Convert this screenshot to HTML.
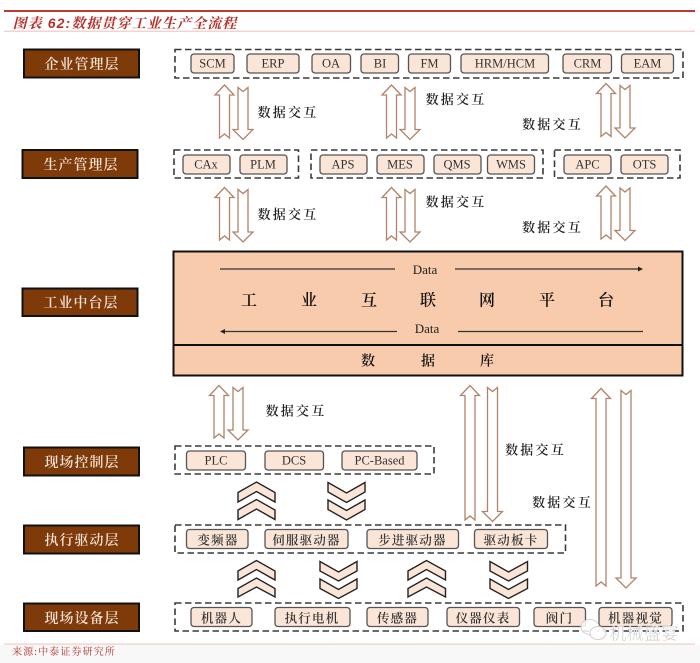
<!DOCTYPE html>
<html><head><meta charset="utf-8">
<style>
html,body{margin:0;padding:0;background:#fff;width:700px;height:663px;overflow:hidden}
svg{display:block;filter:blur(.35px)}
text{font-family:"Liberation Serif","Noto Serif CJK SC",serif;text-anchor:middle;dominant-baseline:central}
.lay rect{fill:#7f3a0a;stroke:#111;stroke-width:2}
.lay text{fill:#f6e6d8;font-size:14px;letter-spacing:1px;font-weight:600;transform:translateY(2px)}
.grp rect{fill:none;stroke:#3a3a3a;stroke-width:1.6;stroke-dasharray:6.5 3.5}
.chip rect{fill:#fbe5d6;stroke:#555;stroke-width:1.3}
.chip text{fill:#333;font-size:12.5px}
.cn text{letter-spacing:1.2px;font-weight:600;transform:translateY(1.5px)}
.arr polygon{fill:#fff;stroke:#b0836a;stroke-width:1.3}
.chev polygon{fill:#fbe5d6;stroke:#222;stroke-width:1.4}
.lab text{font-size:13px;letter-spacing:2.2px;fill:#222;font-weight:600;transform:translateY(1.5px)}
.big{transform:translateY(2px)}
</style></head><body>
<svg width="700" height="663" viewBox="0 0 700 663" xmlns="http://www.w3.org/2000/svg">
<rect x="0" y="645" width="700" height="18" fill="#f8f8f8"/>
<rect x="4" y="10" width="691" height="2" fill="#bf3a30"/>
<rect x="4" y="30.5" width="691" height="1.5" fill="#f2d5d0"/>
<text x="125" y="23" style="font-size:14px;font-style:italic;font-weight:700;fill:#b5302a;letter-spacing:1.1px;font-family:'Liberation Sans','Noto Serif CJK SC',serif">图表 62:数据贯穿工业生产全流程</text>

<g class="lay">
<rect x="24" y="49.5" width="115" height="28"/><text x="82" y="63.5">企业管理层</text>
<rect x="22.5" y="150" width="115" height="28"/><text x="81" y="164">生产管理层</text>
<rect x="22.5" y="288.5" width="115" height="27.5"/><text x="81" y="302">工业中台层</text>
<rect x="24" y="447.5" width="115" height="28"/><text x="82" y="461.5">现场控制层</text>
<rect x="24" y="525.5" width="115" height="28"/><text x="82" y="539.5">执行驱动层</text>
<rect x="24" y="603.5" width="115" height="27.5"/><text x="82" y="617.5">现场设备层</text>
</g>

<g class="grp">
<rect x="175" y="49.5" width="508" height="28.5"/>
<rect x="174" y="150" width="124.5" height="28"/>
<rect x="311" y="150" width="232" height="28"/>
<rect x="554.5" y="150" width="125.5" height="28"/>
<rect x="175" y="446" width="259" height="28"/>
<rect x="175" y="525" width="390.5" height="28"/>
<rect x="175" y="603" width="508" height="28"/>
</g>

<g class="chip">
<rect x="191" y="54" width="43" height="19" rx="3"/><text x="212.5" y="63.5">SCM</text>
<rect x="247" y="54" width="52" height="19" rx="3"/><text x="273" y="63.5">ERP</text>
<rect x="312" y="54" width="38.5" height="19" rx="3"/><text x="331" y="63.5">OA</text>
<rect x="361" y="54" width="37.5" height="19" rx="3"/><text x="380" y="63.5">BI</text>
<rect x="408.5" y="54" width="42" height="19" rx="3"/><text x="429.5" y="63.5">FM</text>
<rect x="461" y="54" width="87.5" height="19" rx="3"/><text x="505" y="63.5">HRM/HCM</text>
<rect x="563" y="54" width="48.5" height="19" rx="3"/><text x="587.5" y="63.5">CRM</text>
<rect x="621.5" y="54" width="52" height="19" rx="3"/><text x="647.5" y="63.5">EAM</text>

<rect x="183" y="155" width="47" height="19" rx="3"/><text x="206" y="164.5">CAx</text>
<rect x="240" y="155" width="47" height="19" rx="3"/><text x="263" y="164.5">PLM</text>
<rect x="320" y="155" width="47" height="19" rx="3"/><text x="343" y="164.5">APS</text>
<rect x="377" y="155" width="47" height="19" rx="3"/><text x="400" y="164.5">MES</text>
<rect x="434" y="155" width="47" height="19" rx="3"/><text x="457" y="164.5">QMS</text>
<rect x="487.5" y="155" width="47" height="19" rx="3"/><text x="511" y="164.5">WMS</text>
<rect x="564" y="155" width="47" height="19" rx="3"/><text x="587.5" y="164.5">APC</text>
<rect x="621" y="155" width="47" height="19" rx="3"/><text x="644.5" y="164.5">OTS</text>

<rect x="186.5" y="451" width="59" height="19" rx="3"/><text x="216" y="460.5">PLC</text>
<rect x="265" y="451" width="58.5" height="19" rx="3"/><text x="294" y="460.5">DCS</text>
<rect x="342" y="451" width="75" height="19" rx="3"/><text x="379.5" y="460.5">PC-Based</text>

<g class="cn">
<rect x="186.5" y="529.5" width="61.5" height="19" rx="3"/><text x="218" y="539">变频器</text>
<rect x="265" y="529.5" width="83" height="19" rx="3"/><text x="306.5" y="539">伺服驱动器</text>
<rect x="367" y="529.5" width="91.5" height="19" rx="3"/><text x="412.5" y="539">步进驱动器</text>
<rect x="474.5" y="529.5" width="73" height="19" rx="3"/><text x="511" y="539">驱动板卡</text>

<rect x="191" y="607.5" width="61" height="19" rx="3"/><text x="221.5" y="617">机器人</text>
<rect x="275" y="607.5" width="75" height="19" rx="3"/><text x="312" y="617">执行电机</text>
<rect x="367" y="607.5" width="61" height="19" rx="3"/><text x="397.5" y="617">传感器</text>
<rect x="447" y="607.5" width="72.5" height="19" rx="3"/><text x="483" y="617">仪器仪表</text>
<rect x="534" y="607.5" width="51.5" height="19" rx="3"/><text x="559.5" y="617">阀门</text>
<rect x="599" y="607.5" width="73" height="19" rx="3"/><text x="635.5" y="617">机器视觉</text>
</g>
</g>

<rect x="173.5" y="251.5" width="509" height="124" fill="#f7cbac" stroke="#111" stroke-width="2"/>
<line x1="173.5" y1="345" x2="682.5" y2="345" stroke="#111" stroke-width="2"/>
<g stroke="#333" stroke-width="1.3">
<line x1="220" y1="269" x2="395" y2="269"/>
<line x1="455" y1="269" x2="639" y2="269"/>
<line x1="224" y1="331.5" x2="397" y2="331.5"/>
<line x1="458" y1="331.5" x2="643" y2="331.5"/>
</g>
<polygon points="643,269 638,266.5 638,271.5" fill="#222"/>
<polygon points="220,331.5 225,329 225,334" fill="#222"/>
<g fill="#222" style="font-size:13px">
<text x="425" y="269.5">Data</text>
<text x="427" y="328.5">Data</text>
</g>
<g class="big" fill="#111" style="font-size:16px;font-weight:600">
<text x="249" y="299">工</text><text x="309" y="299">业</text><text x="369" y="299">互</text><text x="428" y="299">联</text><text x="487" y="299">网</text><text x="547" y="299">平</text><text x="606" y="299">台</text>
</g>
<g class="big" fill="#111" style="font-size:14px;font-weight:600">
<text x="368" y="360">数</text><text x="428" y="360">据</text><text x="487" y="360">库</text>
</g>

<g class="arr">
<polygon points="224.5,85 234,95 229.5,95 229.5,138 224.5,134 219.5,138 219.5,95 215,95"/>
<polygon points="238,87.5 243,91.5 248,87.5 248,129.5 253,129.5 243,139.5 233,129.5 238,129.5"/>
<polygon points="224.5,187.5 234,197.5 229.5,197.5 229.5,240 224.5,236 219.5,240 219.5,197.5 215,197.5"/>
<polygon points="238,189.5 243,193.5 248,189.5 248,232 253,232 243,242 233,232 238,232"/>
<polygon points="391.5,85 401,95 396.5,95 396.5,138 391.5,134 386.5,138 386.5,95 382,95"/>
<polygon points="405,87.5 410,91.5 415,87.5 415,129.5 420,129.5 410,139.5 400,129.5 405,129.5"/>
<polygon points="391.5,187.5 401,197.5 396.5,197.5 396.5,240 391.5,236 386.5,240 386.5,197.5 382,197.5"/>
<polygon points="405,189.5 410,193.5 415,189.5 415,232 420,232 410,242 400,232 405,232"/>
<polygon points="606,83.5 615.5,93.5 611,93.5 611,136.5 606,132.5 601,136.5 601,93.5 596.5,93.5"/>
<polygon points="620,85.5 625,89.5 630,85.5 630,128 635,128 625,138 615,128 620,128"/>
<polygon points="606,186 615.5,196 611,196 611,239 606,235 601,239 601,196 596.5,196"/>
<polygon points="620,188 625,192 630,188 630,230.5 635,230.5 625,240.5 615,230.5 620,230.5"/>
<polygon points="219,385.5 228.5,395.5 224,395.5 224,438 219,434 214,438 214,395.5 209.5,395.5"/>
<polygon points="233,387.5 238,391.5 243,387.5 243,430 248,430 238,440 228,430 233,430"/>
<polygon points="470,385.5 479.5,395.5 475,395.5 475,520 470,516 465,520 465,395.5 460.5,395.5"/>
<polygon points="487.5,387.5 492.5,391.5 497.5,387.5 497.5,511.5 502.5,511.5 492.5,521.5 482.5,511.5 487.5,511.5"/>
<polygon points="601,388.5 610.5,398.5 606,398.5 606,586 601,582 596,586 596,398.5 591.5,398.5"/>
<polygon points="621,390.5 626,394.5 631,390.5 631,578 636,578 626,588 616,578 621,578"/>
</g>

<g class="lab">
<text x="288" y="111">数据交互</text>
<text x="288" y="213">数据交互</text>
<text x="456" y="98">数据交互</text>
<text x="456" y="200.5">数据交互</text>
<text x="552.5" y="123">数据交互</text>
<text x="552.5" y="226">数据交互</text>
<text x="296" y="409.5">数据交互</text>
<text x="535.5" y="448.5">数据交互</text>
<text x="562.5" y="501">数据交互</text>
</g>

<g class="chev">
<polygon points="238,492.5 256.5,482 275,492.5 275,502 256.5,491.5 238,502"/>
<polygon points="238,510 256.5,499.5 275,510 275,519.5 256.5,509 238,519.5"/>
<polygon points="328,482.5 346.5,493 365,482.5 365,492 346.5,502.5 328,492"/>
<polygon points="328,500 346.5,510.5 365,500 365,509.5 346.5,520 328,509.5"/>

<polygon points="238,571 256.5,560.5 275,571 275,580 256.5,569.5 238,580"/>
<polygon points="238,588.5 256.5,578 275,588.5 275,597 256.5,587 238,597"/>
<polygon points="320,561.5 338.5,572 357,561.5 357,571 338.5,581 320,571"/>
<polygon points="320,579 338.5,589.5 357,579 357,588.5 338.5,598.5 320,588.5"/>
<polygon points="408,571 426.5,560.5 445.5,571 445.5,580 426.5,569.5 408,580"/>
<polygon points="408,588.5 426.5,578 445.5,588.5 445.5,597 426.5,587 408,597"/>
<polygon points="490,561.5 508.5,572 527.5,561.5 527.5,571 508.5,581 490,571"/>
<polygon points="490,579 508.5,589.5 527.5,579 527.5,588.5 508.5,598.5 490,588.5"/>
</g>

<rect x="4" y="643.5" width="691" height="1.2" fill="#f3c9c3"/>
<text x="64" y="652.5" style="font-size:10px;fill:#b5302a;letter-spacing:1.1px;font-family:'Liberation Serif','Noto Serif CJK SC',serif">来源:中泰证券研究所</text>

<g fill="#fff" fill-opacity=".85" stroke="#cfcfcf" stroke-width="1">
<ellipse cx="590" cy="627" rx="9" ry="7.5"/>
<ellipse cx="598" cy="633" rx="8" ry="6.5"/>
</g>
<text x="644" y="634" style="font-size:17px;fill:#c9c9c9;stroke:#fff;stroke-width:.4px;letter-spacing:.4px;font-family:'Liberation Sans','Noto Sans CJK SC',sans-serif">机械盛宴</text>
</svg>
</body></html>
